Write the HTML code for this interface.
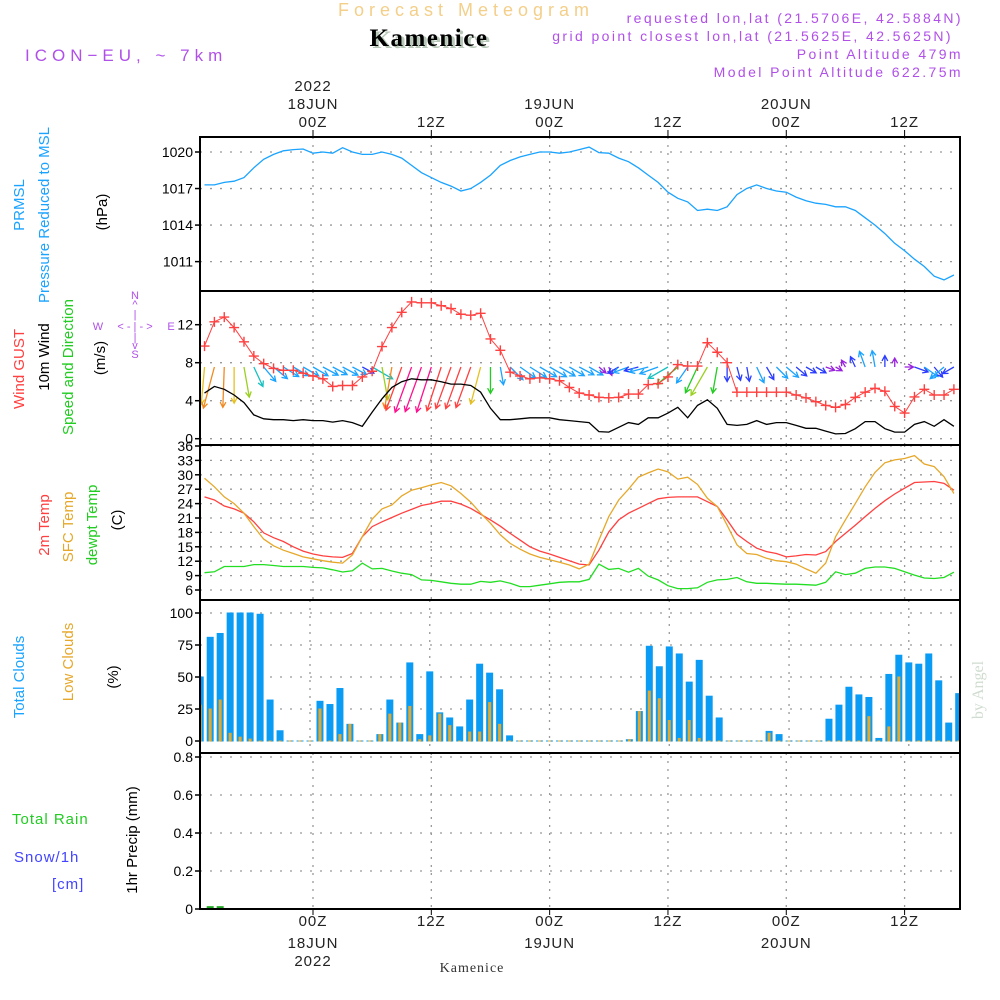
<!DOCTYPE html>
<html><head><meta charset="utf-8">
<style>
html,body{margin:0;padding:0;background:#fff;}
svg{display:block;font-family:"Liberation Sans",sans-serif;}
</style></head>
<body>
<svg id="chart" width="1000" height="1000" viewBox="0 0 1000 1000" xmlns="http://www.w3.org/2000/svg">
<rect x="0" y="0" width="1000" height="1000" fill="#fff"/>
<!-- header -->
<text x="466" y="16" font-size="18" fill="#f3cf8a" text-anchor="middle" letter-spacing="5">Forecast Meteogram</text>
<text x="432" y="48" font-size="25" font-weight="bold" fill="#b8c8b8" text-anchor="middle" font-family="Liberation Serif, serif" letter-spacing="1.5">Kamenice</text>
<text x="429" y="46" font-size="25" font-weight="bold" fill="#000" text-anchor="middle" font-family="Liberation Serif, serif" letter-spacing="1.5">Kamenice</text>
<text x="25" y="61" font-size="17" fill="#b050e8" letter-spacing="5">ICON−EU, ~ 7km</text>
<g font-size="14" fill="#b050e8" text-anchor="end" letter-spacing="2.4">
<text x="963" y="23">requested lon,lat (21.5706E, 42.5884N)</text>
<text x="953" y="41">grid point closest lon,lat (21.5625E, 42.5625N)</text>
<text x="963" y="59">Point Altitude 479m</text>
<text x="963" y="77">Model Point Altitude 622.75m</text>
</g>
<!-- left labels -->
<g font-size="15">
<text transform="translate(24,205) rotate(-90)" fill="#1aa3ff" text-anchor="middle">PRMSL</text>
<text transform="translate(49,215) rotate(-90)" fill="#1aa3ff" text-anchor="middle">Pressure Reduced to MSL</text>
<text transform="translate(107,212) rotate(-90)" fill="#000" text-anchor="middle">(hPa)</text>
<text transform="translate(24,369) rotate(-90)" fill="#ff4040" text-anchor="middle">Wind GUST</text>
<text transform="translate(49,357) rotate(-90)" fill="#000" text-anchor="middle">10m Wind</text>
<text transform="translate(73,367) rotate(-90)" fill="#22cc22" text-anchor="middle">Speed and Direction</text>
<text transform="translate(105,358) rotate(-90)" fill="#000" text-anchor="middle">(m/s)</text>
<text transform="translate(49,525) rotate(-90)" fill="#ff4040" text-anchor="middle">2m Temp</text>
<text transform="translate(73,527) rotate(-90)" fill="#e6a82a" text-anchor="middle">SFC Temp</text>
<text transform="translate(97,525) rotate(-90)" fill="#22cc22" text-anchor="middle">dewpt Temp</text>
<text transform="translate(122,520) rotate(-90)" fill="#000" text-anchor="middle">(C)</text>
<text transform="translate(24,677) rotate(-90)" fill="#1aa3ff" text-anchor="middle">Total Clouds</text>
<text transform="translate(73,662) rotate(-90)" fill="#e6a82a" text-anchor="middle">Low Clouds</text>
<text transform="translate(118,677) rotate(-90)" fill="#000" text-anchor="middle">(%)</text>
<text transform="translate(137,840) rotate(-90)" fill="#000" text-anchor="middle">1hr Precip (mm)</text>
<text x="12" y="824" fill="#22cc22" letter-spacing="1">Total  Rain</text>
<text x="14" y="862" fill="#4444ff" letter-spacing="1">Snow/1h</text>
<text x="52" y="889" fill="#4444ff" letter-spacing="1">[cm]</text>
</g>
<!-- compass -->
<g font-size="11" fill="#b050e8" text-anchor="middle">
<text x="135" y="299">N</text><text x="135" y="308">^</text><text x="135" y="318">|</text>
<text x="98" y="330">W</text><text x="135" y="330">&lt; - | - &gt;</text><text x="171" y="330">E</text>
<text x="135" y="341">|</text><text x="135" y="349">v</text><text x="135" y="358">S</text>
</g>
<text transform="translate(983,690) rotate(-90)" font-size="16" fill="#cfdccf" text-anchor="middle" font-family="Liberation Serif, serif">by Angel</text>
<text x="472" y="972" font-size="14" fill="#333" text-anchor="middle" font-family="Liberation Serif, serif" letter-spacing="1">Kamenice</text>
<g id="plot"></g>
</svg>
<script>
// ---------- data (hourly, h = -11 .. 65 relative to 00Z 18JUN) ----------
const hourStart = -11;
const pressure = [1017.3,1017.3,1017.5,1017.6,1017.9,1018.7,1019.4,1019.8,1020.1,1020.2,1020.25,1019.9,1020.0,1019.9,1020.35,1020.0,1019.8,1019.8,1020.0,1019.8,1019.5,1018.9,1018.3,1017.9,1017.5,1017.2,1016.8,1017.0,1017.5,1018.1,1018.9,1019.3,1019.6,1019.8,1020.0,1020.0,1019.9,1020.0,1020.2,1020.4,1019.95,1019.9,1019.5,1019.2,1018.7,1018.1,1017.5,1016.7,1016.2,1015.9,1015.2,1015.3,1015.2,1015.5,1016.5,1017.0,1017.3,1017.0,1016.8,1016.7,1016.3,1016.0,1015.8,1015.7,1015.5,1015.5,1015.2,1014.6,1014.0,1013.3,1012.5,1011.9,1011.2,1010.6,1009.8,1009.5,1009.9];
const gust = [9.75,12.3,12.8,11.7,10.2,8.7,7.9,7.4,7.2,7.2,6.9,6.6,6.3,5.5,5.6,5.6,6.5,7.1,9.7,11.7,13.3,14.4,14.3,14.3,14.0,13.7,13.1,13.0,13.2,10.5,9.3,7.0,6.6,6.3,6.4,6.3,6.1,5.4,4.8,4.6,4.35,4.3,4.35,4.7,4.7,5.7,5.8,6.5,7.8,7.65,7.65,10.1,9.1,8.0,4.9,4.9,4.9,4.9,4.9,4.9,4.6,4.3,3.9,3.5,3.3,3.6,4.35,4.9,5.3,5.0,3.4,2.7,4.4,5.2,4.6,4.6,5.2];
const windSpeed = [4.8,5.5,5.2,4.6,3.8,2.5,2.1,2.0,2.0,1.9,2.0,1.9,1.9,1.75,1.9,1.7,1.3,2.8,4.2,5.4,6.0,6.3,6.2,6.2,6.0,5.75,5.75,5.6,4.9,3.2,2.0,2.0,2.1,2.2,2.2,2.2,2.0,1.9,1.8,1.7,0.75,0.7,1.2,1.7,1.5,2.2,2.2,2.7,3.3,2.2,3.5,4.1,3.2,1.5,1.4,1.5,1.9,1.5,1.7,1.7,1.4,1.1,1.1,0.8,0.5,0.55,1.05,1.8,1.8,1.05,0.7,0.7,1.5,1.8,1.3,2.0,1.3];
const windDir = [95,105,92,90,80,65,50,40,32,30,30,30,28,28,28,28,28,30,80,100,110,110,110,108,108,110,110,110,105,90,80,45,35,32,30,30,30,30,28,30,40,70,150,160,165,165,160,150,140,125,115,120,100,90,75,80,65,60,45,40,40,30,30,20,30,-120,-115,-110,-100,-90,-90,0,20,35,50,140,150];
const temp2m = [25.4,24.75,23.5,22.9,22.0,20.2,17.9,16.9,16.1,15.0,14.1,13.5,13.1,12.9,12.8,13.6,17.1,19.2,20.2,21.1,22.0,22.8,23.6,24.0,24.5,24.5,23.9,23.0,21.8,20.6,19.3,17.8,16.4,15.0,14.1,13.5,12.8,12.1,11.4,11.2,14.3,18.1,20.6,22.0,23.0,24.0,25.0,25.3,25.4,25.4,25.4,24.4,23.4,20.6,17.6,16.1,14.7,14.0,13.6,12.9,13.1,13.4,13.3,14.0,16.1,17.8,19.5,21.3,23.0,24.6,26.0,27.2,28.4,28.5,28.6,28.2,26.8];
const tempSfc = [29.3,27.5,25.4,24.0,22.0,19.2,16.6,15.2,14.3,13.6,12.9,12.5,12.1,11.8,11.6,13.3,17.1,20.8,22.9,23.7,25.6,26.8,27.3,27.9,28.4,27.7,26.1,24.3,22.0,19.9,17.5,15.7,14.5,13.5,12.8,12.3,11.8,11.2,10.4,11.4,16.4,21.3,24.75,27.0,29.5,30.4,31.2,30.6,29.1,29.5,28.0,25.1,23.4,19.5,15.4,13.6,13.4,12.6,12.1,11.9,11.4,10.4,9.5,11.6,17.1,20.6,24.0,27.5,30.5,32.5,33.1,33.4,34.0,32.25,31.7,29.6,26.1];
const dewpt = [9.6,9.8,10.9,10.9,10.9,11.3,11.3,11.1,10.9,10.9,10.9,10.7,10.6,10.2,9.75,10.0,11.6,10.4,10.5,9.95,9.5,9.2,8.1,8.0,7.7,7.4,7.2,7.2,7.8,7.6,7.9,7.4,6.7,6.7,7.0,7.3,7.6,7.7,7.7,8.2,11.4,10.3,10.5,9.7,10.5,8.9,8.1,6.9,6.3,6.3,6.45,7.6,8.1,8.2,8.6,7.7,7.4,7.4,7.3,7.2,7.2,7.1,7.0,7.6,9.8,9.2,9.5,10.5,10.8,10.8,10.5,9.8,9.1,8.5,8.4,8.6,9.7];
const totalClouds = [50,81,84,100,100,100,99,32,8,0,0,0,31,28.5,41,13,0,0,5,32,14,61,5,54,22,18,11,32,60,53,40,4,0,0,0,0,0,0,0,0,0,0,0,1,23,74,58,73.5,68,46,63,35,18,0,0,0,0,7.5,5,0,0,0,0,17,28,42,36,34,2,52,67,61,60,68,47,14,37];
const lowClouds = [28,25,32,6,3,1.5,0,0,0,0,0,0,25,0,5,13,0,0,5,21,14,27,1,4,21,12,0,7,7,30,13,0,0,0,0,0,0,0,0,0,0,0,0,1,23,39,33,16,2,16,2,0,0,0,0,0,0,6,0,0,0,0,0,0,0,0,0,19,0,11,50,0,0,0,0,0,0];
const precip = [0,0.015,0.015,0,0,0,0,0,0,0,0,0,0,0,0,0,0,0,0,0,0,0,0,0,0,0,0,0,0,0,0,0,0,0,0,0,0,0,0,0,0,0,0,0,0,0,0,0,0,0,0,0,0,0,0,0,0,0,0,0,0,0,0,0,0,0,0,0,0,0,0,0,0,0,0,0,0];
const pressTicks = [1011,1014,1017,1020];
const windTicks = [0,4,8,12];
const tempTicks = [6,9,12,15,18,21,24,27,30,33,36];
const cloudTicks = [0,25,50,75,100];
const precipTicks = [0,0.2,0.4,0.6,0.8];
const timeTicks = [0,12,24,36,48,60];
const timeLabels = ["00Z","12Z","00Z","12Z","00Z","12Z"];
const dayLabels = ["18JUN","","19JUN","","20JUN",""];

// ---------- scales ----------
const X0 = 200, X1 = 960;
const xP = h => 313 + h * 9.86;
const xC = h => 310 + h * 9.98;
const yPress = p => 152 + (1020 - p) * 12.18;
const yWind = v => 438.7 - v * 9.5;
const yTemp = t => 590 - (t - 6) * 4.8;
const yCloud = c => 741 - c * 1.28;
const yPrecip = v => 909 - v * 190;
const panels = [[137,291,'pressure'],[291,445,'wind'],[445,600,'temperature'],[600,753,'clouds'],[753,909,'precip']];

const NS = 'http://www.w3.org/2000/svg';
const plot = document.getElementById('plot');
function mk(tag, attrs, parent) {
  const e = document.createElementNS(NS, tag);
  for (const k in attrs) e.setAttribute(k, attrs[k]);
  (parent || plot).appendChild(e);
  return e;
}
const clip = mk('clipPath', {id: 'clipPlot'});
mk('rect', {x: X0, y: 137, width: X1 - X0, height: 772}, clip);

panels.forEach(([top, bot, nm]) => {
  const g = mk('g', {});
  
  
  const xf = nm === 'clouds' ? xC : xP;
  timeTicks.forEach(t => {
    const l = mk('line', {x1: xf(t), x2: xf(t), y1: top, y2: bot, stroke: '#999', 'stroke-width': 1.3, 'stroke-dasharray': '2,6'}, g);
    
    
  });
});
function yAxis(ticks, yf, fmt, top, bot, nm) {
  const g = mk('g', {});
  
  
  ticks.forEach(t => {
    const y = yf(t);
    mk('line', {x1: X0, x2: X1, y1: y, y2: y, stroke: '#999', 'stroke-width': 1.3, 'stroke-dasharray': '2,8'}, g);
    mk('line', {x1: X0 - 5, x2: X0, y1: y, y2: y, stroke: '#000', 'stroke-width': 1.5}, g);
    const tx = mk('text', {x: X0 - 7, y: y + 5, 'font-size': 14, 'text-anchor': 'end', fill: '#000'}, g);
    tx.textContent = fmt(t);
    
    
  });
}
yAxis(pressTicks, yPress, v => v, 137, 291, 'pressure');
yAxis(windTicks, yWind, v => v, 291, 445, 'wind');
yAxis(tempTicks, yTemp, v => v, 445, 600, 'temperature');
yAxis(cloudTicks, yCloud, v => v, 600, 753, 'clouds');
yAxis(precipTicks, yPrecip, v => v === 0 ? '0' : v.toFixed(1), 753, 909, 'precip');

const gt = mk('g', {'font-size': 15, 'text-anchor': 'middle', fill: '#222', 'letter-spacing': 1});


timeTicks.forEach((t, i) => {
  const x = xP(t);
  mk('line', {x1: x, x2: x, y1: 130, y2: 137, stroke: '#000'}, gt);
  mk('line', {x1: x, x2: x, y1: 909, y2: 915, stroke: '#000'}, gt);
  let e = mk('text', {x: x, y: 127}, gt); e.textContent = timeLabels[i];
  
  
  e = mk('text', {x: x, y: 926}, gt); e.textContent = timeLabels[i];
  
  
  if (dayLabels[i]) {
    e = mk('text', {x: x, y: 109}, gt); e.textContent = dayLabels[i];
    
    
    e = mk('text', {x: x, y: 948}, gt); e.textContent = dayLabels[i];
    
    
  }
});
let yr = mk('text', {x: xP(0), y: 91}, gt); yr.textContent = '2022';


yr = mk('text', {x: xP(0), y: 966}, gt); yr.textContent = '2022';



const H = i => hourStart + i;
function line(arr, yf, color, nm, w) {
  const d = arr.map((v, i) => (i ? 'L' : 'M') + xP(H(i)).toFixed(1) + ',' + yf(v).toFixed(1)).join('');
  const p = mk('path', {d: d, fill: 'none', stroke: color, 'stroke-width': w || 1.3, 'clip-path': 'url(#clipPlot)'});
  
  
  return p;
}
line(pressure, yPress, '#1aa3ff', 'pressure-line');

function speedColor(v) {
  if (v < 0.9) return '#9922dd';
  if (v < 1.6) return '#2a3cff';
  if (v < 2.4) return '#1aa3ff';
  if (v < 3.0) return '#18c0c0';
  if (v < 3.8) return '#22cc22';
  if (v < 4.4) return '#9ad020';
  if (v < 5.0) return '#e6c020';
  if (v < 5.6) return '#f08a20';
  if (v < 6.1) return '#ff4040';
  return '#ff1090';
}
const ga = mk('g', {'clip-path': 'url(#clipPlot)'});


windDir.forEach((dg, i) => {
  const v = windSpeed[i];
  const x = xP(H(i)), y = 367;
  const a = dg * Math.PI / 180, L = 4 + 7 * v;
  const x2 = x + L * Math.cos(a), y2 = y + L * Math.sin(a);
  const c = speedColor(v);
  const hl = 6;
  const d = `M${x},${y}L${x2},${y2}M${x2 - hl * Math.cos(a - 0.5)},${y2 - hl * Math.sin(a - 0.5)}L${x2},${y2}L${x2 - hl * Math.cos(a + 0.5)},${y2 - hl * Math.sin(a + 0.5)}`;
  const p = mk('path', {d: d, fill: 'none', stroke: c, 'stroke-width': 1.3}, ga);
  
  
});
line(windSpeed, yWind, '#000', 'wind-speed-line');
line(gust, yWind, '#ff4040', 'gust-line', 1);
const gg = mk('g', {'clip-path': 'url(#clipPlot)'});


gust.forEach((v, i) => {
  const x = xP(H(i)), y = yWind(v);
  const p = mk('path', {d: `M${x - 5},${y}H${x + 5}M${x},${y - 5}V${y + 5}`, stroke: '#ff4040', 'stroke-width': 1.4}, gg);
  
  
});

line(temp2m, yTemp, '#ff4040', 'temp-2m-line');
line(tempSfc, yTemp, '#e6a82a', 'temp-sfc-line');
line(dewpt, yTemp, '#22dd22', 'dewpoint-line');

const gc = mk('g', {'clip-path': 'url(#clipPlot)'});


totalClouds.forEach((v, i) => {
  const x = xC(H(i));
  const b = mk('rect', {x: x - 3.5, y: yCloud(v) - 0.5, width: 7, height: yCloud(0) - yCloud(v) + 1, fill: '#0a9cf5'}, gc);
  
  
  const lv = lowClouds[i];
  const o = mk('rect', {x: x - 1.5, y: yCloud(lv) - 0.5, width: 3, height: yCloud(0) - yCloud(lv) + 1, fill: '#e6a82a'}, gc);
  
  
});

const gpz = mk('line', {x1: X0, x2: X1, y1: 909, y2: 909, stroke: '#333', 'stroke-width': 1.5, 'stroke-dasharray': '4,3'});


const gp = mk('g', {'clip-path': 'url(#clipPlot)'});


precip.forEach((v, i) => {
  if (v <= 0) return;
  const x = xC(H(i));
  const b = mk('rect', {x: x - 3.5, y: yPrecip(v), width: 7, height: yPrecip(0) - yPrecip(v), fill: '#22aa22'}, gp);
  
  
});

panels.forEach(([top, bot, nm]) => {
  const r = mk('rect', {x: X0, y: top, width: X1 - X0, height: bot - top, fill: 'none', stroke: '#000', 'stroke-width': 2});
  
  
});
</script>
</body></html>
